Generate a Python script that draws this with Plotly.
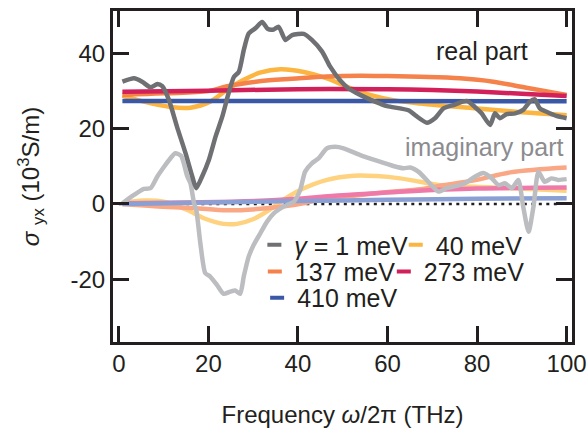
import plotly.graph_objects as go

# ---------------- data ----------------
x_g1_re = [0.8, 3.4, 5.2, 7.1, 8.6, 9.7, 11.2, 13.0, 14.9, 16.4, 17.3, 18.6, 20.1, 21.6, 23.1, 24.5, 25.7, 26.8,
           27.9, 29.0, 30.5, 32.0, 33.3, 34.6, 35.7, 37.2, 38.7, 41.3, 43.1, 45.4, 47.2, 49.4, 51.3, 53.9, 57.2,
           59.9, 62.8, 64.9, 66.4, 68.8, 70.6, 72.5, 74.7, 77.7, 79.5, 81.0, 82.9, 84.0, 85.1, 86.6, 88.5, 90.3,
           91.8, 92.9, 94.0, 95.5, 97.7, 100]
y_g1_re = [32.5, 33.4, 32.5, 31.0, 31.9, 31.3, 27.6, 20.5, 13.5, 7.3, 4.2, 7.3, 11.7, 17.9, 23.2, 29.4, 33.8, 35.1,
           40.9, 45.3, 46.7, 48.4, 46.5, 46.4, 47.1, 43.6, 44.9, 45.2, 43.6, 40.5, 36.5, 32.9, 30.7, 29.0, 27.2,
           26.0, 25.4, 24.8, 23.4, 21.6, 22.8, 25.4, 26.3, 27.4, 25.8, 24.1, 21.0, 24.1, 22.8, 23.9, 24.1, 25.0,
           27.2, 27.8, 25.4, 24.5, 23.4, 22.8]

x_g1_im = [0.8, 3.4, 5.6, 7.1, 8.6, 10.1, 11.5, 12.6, 13.9, 15.3, 16.0, 16.8, 17.3, 18.2, 19.3, 20.4, 21.9, 23.4,
           24.9, 26.0, 27.1, 27.9, 29.0, 30.1, 31.6, 33.1, 34.6, 36.8, 39.1, 40.5, 41.6, 43.1, 44.6, 46.5, 48.3,
           50.2, 53.9, 57.6, 61.3, 63.6, 65.1, 67.1, 69.1, 71.4, 73.2, 74.8, 77.3, 79.6, 81.4, 83.3, 84.8, 86.2,
           87.8, 89.2, 90.3, 91.5, 92.6, 93.7, 95.1, 96.6, 98.1, 100]
y_g1_im = [0.2, 2.4, 4.0, 4.2, 7.3, 9.9, 12.1, 13.5, 12.8, 7.3, 5.5, 0.2, -1.6, -10.4, -18.4, -19.3, -21.5, -23.9,
           -23.3, -23.0, -23.9, -19.3, -14.0, -10.9, -7.8, -4.7, -2.5, -0.7, 0.6, 3.7, 8.6, 10.8, 12.1, 14.8, 15.2,
           14.8, 13.0, 11.5, 10.1, 9.5, 9.7, 8.4, 5.9, 3.3, 4.2, 4.6, 5.5, 7.3, 8.2, 6.8, 5.0, 5.5,
           4.2, 6.4, -0.7, -7.4, -0.7, 8.6, 5.9, 6.8, 6.4, 6.6]

x_40_re = [0.8, 5.6, 11.5, 16.0, 20.4, 24.2, 27.9, 31.5, 36.1, 41.3, 46.5, 50.9, 56.1, 61.3, 67.3, 80, 90, 100]
y_40_re = [28.8, 27.2, 25.8, 25.6, 27.2, 30.4, 33.0, 34.9, 35.8, 35.1, 33.4, 31.2, 29.0, 27.6, 26.7, 25.4, 24.4, 23.6]
x_40_im = [0.8, 5.6, 10, 15.3, 19, 23.4, 26.4, 30.1, 33.1, 36.1, 40.5, 46.5, 52.4, 57.6, 62.8, 67.3, 71.7, 83.6, 100]
y_40_im = [0.2, 0.9, 0.6, -1.6, -3.8, -5.3, -5.3, -4.0, -2.0, 0.6, 3.7, 6.4, 7.5, 7.4, 6.8, 5.9, 5.0, 4.4, 3.5]

x_137_re = [0.8, 10, 20, 24.2, 33.5, 38.7, 46.5, 53.9, 60, 67.3, 76.2, 83.6, 91, 100]
y_137_re = [29.0, 29.4, 30.0, 31.3, 32.9, 33.3, 33.9, 34.1, 34.0, 33.8, 33.4, 32.5, 30.9, 29.0]
x_137_im = [0.8, 8, 16.7, 24.2, 31.6, 39, 46.5, 53.9, 61.3, 67.3, 72.4, 79.9, 87.4, 100]
y_137_im = [0.0, -0.6, -1.1, -1.7, -1.3, -0.3, 1.5, 2.4, 3.3, 3.9, 5.0, 6.4, 8.4, 9.7]

x_273_re = [0.8, 20, 40, 60, 70, 80, 90, 100]
y_273_re = [29.8, 30.1, 30.5, 30.5, 30.3, 29.9, 29.3, 28.7]
x_273_im = [0.8, 33, 50, 65, 80, 100]
y_273_im = [0.2, 0.9, 2.3, 3.4, 4.1, 4.4]

x_410_re = [0.8, 50, 100]
y_410_re = [27.4, 27.4, 27.3]
x_410_im = [0.8, 20, 40, 60, 80, 100]
y_410_im = [0.0, 0.4, 0.8, 1.1, 1.4, 1.5]

x_zero = [0, 98]
y_zero = [0, 0]

x_ticks = [0, 20, 40, 60, 80, 100]
x_tick_labels = ["0", "20", "40", "60", "80", "100"]
y_ticks = [-20, 0, 20, 40]
y_tick_labels = ["-20", "0", "20", "40"]

legend_labels = ["<i>γ</i> = 1 meV", "40 meV", "137 meV", "273 meV", "410 meV"]

# ---------------- style ----------------
FONT = "Liberation Sans, Arial, sans-serif"
INK = "#231f20"
col_re = {"1": "#6f7073", "40": "#fbb540", "137": "#f5814b", "273": "#d2205a", "410": "#3a58a6"}
col_im = {"1": "#bcbdc0", "40": "#fed27f", "137": "#f9a785", "273": "#ef7aa9", "410": "#8a9fd3"}
LW = 4.5

fig = go.Figure()

fig.add_trace(go.Scatter(x=x_zero, y=y_zero, mode="lines", showlegend=False,
                         line=dict(color=INK, width=2.5, dash="3px,4.5px")))

series = [
    ("40", x_40_re, y_40_re, x_40_im, y_40_im),
    ("137", x_137_re, y_137_re, x_137_im, y_137_im),
    ("273", x_273_re, y_273_re, x_273_im, y_273_im),
    ("410", x_410_re, y_410_re, x_410_im, y_410_im),
]
for key, xr, yr, xi, yi in series:
    fig.add_trace(go.Scatter(x=xi, y=yi, mode="lines", showlegend=False,
                             line=dict(color=col_im[key], width=LW, shape="spline")))
    fig.add_trace(go.Scatter(x=xr, y=yr, mode="lines", showlegend=False,
                             line=dict(color=col_re[key], width=LW, shape="spline")))

fig.add_trace(go.Scatter(x=x_g1_im, y=y_g1_im, mode="lines", showlegend=False,
                         line=dict(color=col_im["1"], width=LW, shape="spline", smoothing=0.6)))
fig.add_trace(go.Scatter(x=x_g1_re, y=y_g1_re, mode="lines", showlegend=False,
                         line=dict(color=col_re["1"], width=LW, shape="spline", smoothing=0.6)))

# legend entries (short dash symbols), one small legend per entry
leg_keys = ["1", "40", "137", "273", "410"]
leg_ids = ["legend", "legend2", "legend3", "legend4", "legend5"]
for key, lab, lid in zip(leg_keys, legend_labels, leg_ids):
    fig.add_trace(go.Scatter(x=[None], y=[None], mode="markers", name=lab, legend=lid,
                             marker=dict(symbol="line-ew", size=10, color=col_re[key],
                                         line=dict(color=col_re[key], width=4))))

legfont = dict(family=FONT, size=25, color=INK)
common_leg = dict(orientation="h", xanchor="left", yanchor="middle", bgcolor="rgba(0,0,0,0)",
                  font=legfont, itemsizing="trace", borderwidth=0)

fig.update_layout(
    width=587, height=428,
    margin=dict(l=113, r=15, t=11, b=86, autoexpand=False),
    paper_bgcolor="white", plot_bgcolor="white",
    font=dict(family=FONT, size=24, color=INK),
    legend=dict(x=0.308, y=0.293, **common_leg),
    legend2=dict(x=0.616, y=0.293, **common_leg),
    legend3=dict(x=0.309, y=0.212, **common_leg),
    legend4=dict(x=0.590, y=0.212, **common_leg),
    legend5=dict(x=0.314, y=0.133, **common_leg),
    annotations=[
        dict(x=91.9, y=40.7, xref="x", yref="y", text="real part", showarrow=False,
             xanchor="right", yanchor="middle", font=dict(family=FONT, size=25, color=INK)),
        dict(x=99.7, y=15.2, xref="x", yref="y", text="imaginary part", showarrow=False,
             xanchor="right", yanchor="middle", font=dict(family=FONT, size=25, color="#8b8c8f")),
    ],
)

fig.update_xaxes(range=[-1.3, 101.2], tickvals=x_ticks, ticktext=x_tick_labels,
                 showline=True, linewidth=3, linecolor=INK, mirror="ticks",
                 ticks="inside", ticklen=16, tickwidth=3, tickcolor=INK,
                 showgrid=False, zeroline=False, ticklabelstandoff=-2,
                 tickfont=dict(family=FONT, size=24, color=INK),
                 title=dict(text="Frequency <i>ω</i>/2π (THz)", font=dict(family=FONT, size=24, color=INK),
                            standoff=42))
fig.update_yaxes(range=[-36.7, 51.3], tickvals=y_ticks, ticktext=y_tick_labels,
                 showline=True, linewidth=3, linecolor=INK, mirror="ticks",
                 ticks="inside", ticklen=16, tickwidth=3, tickcolor=INK,
                 showgrid=False, zeroline=False,
                 tickfont=dict(family=FONT, size=24, color=INK),
                 title=dict(text="<i>σ</i> <sub>yx</sub> (10<sup>3</sup>S/m)",
                            font=dict(family=FONT, size=24, color=INK), standoff=25))

fig.write_html("out.html", config={"displayModeBar": False},
               post_script="document.body.style.margin='0';document.body.style.padding='0';")
